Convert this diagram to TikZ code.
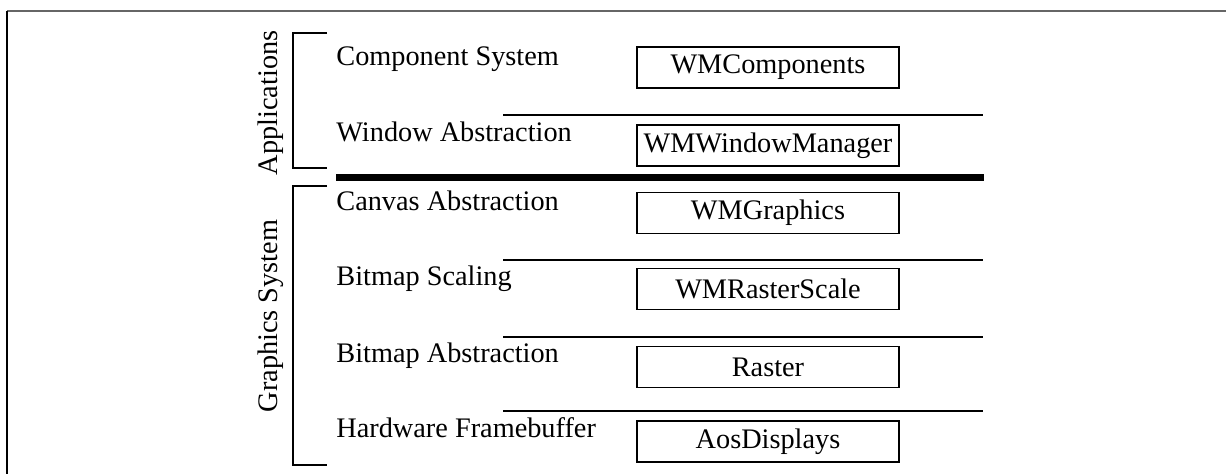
\documentclass[tikz,border=0pt]{standalone}
\usepackage{fontspec}
\setmainfont{Liberation Serif}
\begin{document}
\begin{tikzpicture}[x=0.5pt,y=-0.5pt,
  every node/.style={font=\fontsize{14.15pt}{17pt}\selectfont, inner sep=0pt},
  modbox/.style={draw, line width=0.6pt, minimum width=131pt, minimum height=20.5pt},
  lbl/.style={anchor=base west},
  sep/.style={line width=0.6pt},
  brk/.style={line width=0.6pt},
  grp/.style={rotate=90, anchor=base}]
\useasboundingbox (0,0) rectangle (1226,474);
% frame
\coordinate (ftl) at (7,11);
\coordinate (ftr) at (1226,11);
\coordinate (fbl) at (7,474);
\draw[line width=1pt, gray!80!black] (ftl) -- (ftr);
\draw[line width=0.8pt] (ftl) -- (fbl);
% group labels
\node[grp] (app) at (277,103) {Applications};
\node[grp] (gfx) at (277,316) {Graphics System};
% brackets
\coordinate (a1) at (327,33); \coordinate (a2) at (293,33);
\coordinate (a3) at (293,168); \coordinate (a4) at (327,168);
\draw[brk] (a1) -- (a2) -- (a3) -- (a4);
\coordinate (g1) at (327,186); \coordinate (g2) at (293,186);
\coordinate (g3) at (293,465); \coordinate (g4) at (327,465);
\draw[brk] (g1) -- (g2) -- (g3) -- (g4);
% layer labels
\node[lbl] (l1) at (336,66) {Component System};
\node[lbl] (l2) at (336,142) {Window Abstraction};
\node[lbl] (l3) at (336,211) {Canvas Abstraction};
\node[lbl] (l4) at (336,286) {Bitmap Scaling};
\node[lbl] (l5) at (336,363) {Bitmap Abstraction};
\node[lbl] (l6) at (336,438) {Hardware Framebuffer};
% modules
\node[modbox] (m1) at (768,67.5) {WMComponents};
\node[modbox] (m2) at (768,145.5) {WMWindowManager};
\node[modbox] (m3) at (768,213) {WMGraphics};
\node[modbox] (m4) at (768,289) {WMRasterScale};
\node[modbox] (m5) at (768,367) {Raster};
\node[modbox] (m6) at (768,441.5) {AosDisplays};
% separators
\coordinate (s1a) at (503,115); \coordinate (s1b) at (983,115);
\coordinate (s2a) at (503,260); \coordinate (s2b) at (983,260);
\coordinate (s3a) at (503,337); \coordinate (s3b) at (983,337);
\coordinate (s4a) at (503,411); \coordinate (s4b) at (983,411);
\draw[sep] (s1a) -- (s1b);
\draw[sep] (s2a) -- (s2b);
\draw[sep] (s3a) -- (s3b);
\draw[sep] (s4a) -- (s4b);
\coordinate (t1) at (336,177.5); \coordinate (t2) at (984,177.5);
\draw[line width=3.5pt] (t1) -- (t2);
\end{tikzpicture}
\end{document}
